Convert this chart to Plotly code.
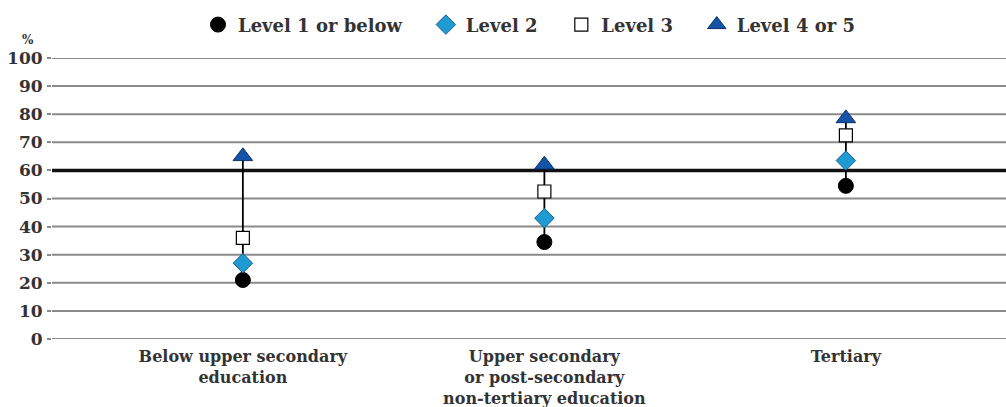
import plotly.graph_objects as go

categories = ["Below upper secondary<br>education",
              "Upper secondary<br>or post-secondary<br>non-tertiary education",
              "Tertiary"]
series_names = ["Level 1 or below", "Level 2", "Level 3", "Level 4 or 5"]
level1 = [21, 34.5, 54.5]
level2 = [27, 43, 63.5]
level3 = [36, 52.5, 72.5]
level45 = [65, 62, 78.5]
y_ticks = [0, 10, 20, 30, 40, 50, 60, 70, 80, 90, 100]
reference_level = 60

FONT = "DejaVu Serif"
TXT = "#333333"
PAD = "\u00a0\u00a0\u00a0"

fig = go.Figure()

# gridlines as shapes (reference level drawn darker and thicker, last)
for t in y_ticks:
    if t != reference_level:
        fig.add_hline(y=t, line=dict(color="#8a8a8a", width=2), layer="below")
fig.add_hline(y=reference_level, line=dict(color="#111111", width=3.5), layer="below")

# vertical range lines (min to max per category)
lx, ly = [], []
all_series = [level1, level2, level3, level45]
for i, c in enumerate(categories):
    vals = [s[i] for s in all_series]
    lx += [c, c, None]
    ly += [min(vals), max(vals), None]
fig.add_trace(go.Scatter(x=lx, y=ly, mode="lines", line=dict(color="black", width=1.8),
                         showlegend=False, hoverinfo="skip"))

styles = [
    dict(symbol="circle", color="black", line=dict(color="black", width=1)),
    dict(symbol="diamond", color="#1f9bd4", line=dict(color="#1a5f8a", width=1)),
    dict(symbol="square", color="white", line=dict(color="black", width=1.2)),
    dict(symbol="triangle-up", color="#1553a6", line=dict(color="#0d2f66", width=1)),
]
sizes = [15, 15, 13, 17]
for k, (name, vals, st, sz) in enumerate(zip(series_names, all_series, styles, sizes)):
    label = name + (PAD if k < len(series_names) - 1 else "")
    fig.add_trace(go.Scatter(x=categories, y=vals, mode="markers", name=label,
                             marker=dict(size=sz, **st)))

fig.add_annotation(text="%", xref="paper", yref="paper", x=-0.025, y=1.064,
                   xanchor="center", yanchor="middle", showarrow=False,
                   font=dict(family=FONT, size=12, color=TXT, weight="bold"))

fig.update_layout(
    width=1006, height=407,
    margin=dict(l=52, r=0, t=58, b=68),
    paper_bgcolor="white", plot_bgcolor="white",
    font=dict(family=FONT, size=17, color=TXT, weight="bold"),
    legend=dict(orientation="h", x=0.5, xanchor="center", y=1.052, yanchor="bottom",
                font=dict(family=FONT, size=18, color=TXT, weight="bold"),
                itemwidth=30, traceorder="normal", bgcolor="rgba(0,0,0,0)"),
    xaxis=dict(type="category", range=[-0.633, 2.531], showgrid=False, zeroline=False,
               showline=False, ticks="", automargin=False, ticklabelstandoff=6,
               tickfont=dict(family=FONT, size=16, color=TXT, weight="bold")),
    yaxis=dict(range=[0, 100], tickvals=y_ticks, showgrid=False,
               zeroline=False, showline=False, ticks="outside", ticklen=4,
               tickcolor="#8a8a8a", tickwidth=2, automargin=False, ticklabelstandoff=1,
               tickfont=dict(family=FONT, size=17, color=TXT, weight="bold")),
)

fig.write_html("out.html", config={"displayModeBar": False},
               post_script="document.body.style.margin='0';")
